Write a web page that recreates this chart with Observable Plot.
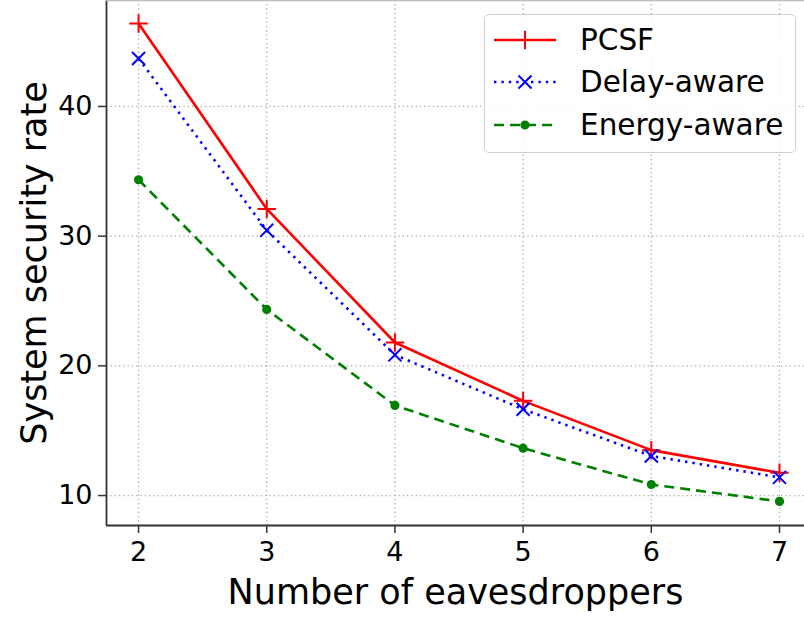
<!DOCTYPE html>
<html>
<head>
<meta charset="utf-8">
<script src="https://cdn.jsdelivr.net/npm/d3@7"></script>
<script src="https://cdn.jsdelivr.net/npm/@observablehq/plot@0.6"></script>
<style>
  html, body { margin: 0; padding: 0; background: #fff; overflow: hidden; }
  #chart { position: relative; width: 804px; height: 617px; font-family: "DejaVu Sans", sans-serif; }
  #legend {
    position: absolute; left: 484px; top: 14px; width: 312px; height: 139px;
    border: 1.5px solid #cfcfcf; border-radius: 5px; background: rgba(255,255,255,0.85);
    box-sizing: border-box;
  }
  #legend .row { position: absolute; left: 0; height: 40px; display: flex; align-items: center; }
  #legend .row span { font-size: 29.5px; color: #000; margin-left: 10px; }
</style>
</head>
<body>
<div id="chart"></div>
<script>
// Number of eavesdroppers
const eavesdroppers = [2, 3, 4, 5, 6, 7];
// System security rate per scheme
const pcsf = [46.4, 32.1, 21.8, 17.3, 13.5, 11.75];
const delayAware = [43.7, 30.45, 20.85, 16.65, 13.05, 11.4];
const energyAware = [34.35, 24.35, 16.95, 13.65, 10.85, 9.55];
const yTicks = [10, 20, 30, 40];

const series = [
  {name: "PCSF", values: pcsf, color: "#ff0000", dash: null, symbol: "plus", r: 6, fill: "none"},
  {name: "Delay-aware", values: delayAware, color: "#0000ff", dash: "2.4,5", symbol: "times", r: 6, fill: "none"},
  {name: "Energy-aware", values: energyAware, color: "#008000", dash: "10,6", symbol: "circle", r: 3.6, fill: "#008000"}
];

const rows = series.flatMap(s => eavesdroppers.map((x, i) => ({x, y: s.values[i], name: s.name})));

const gridStyle = {stroke: "#aaaaaa", strokeOpacity: 1, strokeWidth: 1.3, strokeDasharray: "1.3,3"};
const marks = [
  Plot.gridX(eavesdroppers, gridStyle),
  Plot.gridY(yTicks, gridStyle),
  Plot.axisX(eavesdroppers, {tickSize: 8, tickPadding: 8, fontSize: 27, stroke: "#333", strokeWidth: 1.5, label: null, tickFormat: d => String(d)}),
  Plot.axisY(yTicks, {tickSize: 8, tickPadding: 6, fontSize: 27, stroke: "#333", strokeWidth: 1.5, label: null}),
  Plot.ruleY([7.69], {stroke: "#333", strokeWidth: 1.8}),
  Plot.ruleX([1.75], {stroke: "#333", strokeWidth: 1.8}),
  Plot.ruleY([48.17], {stroke: "#bbb", strokeWidth: 1.5})
];

for (const s of series) {
  const data = rows.filter(d => d.name === s.name);
  marks.push(Plot.line(data, {x: "x", y: "y", stroke: s.color, strokeWidth: 2.6, strokeDasharray: s.dash, strokeLinecap: "butt"}));
  marks.push(Plot.dot(data, {x: "x", y: "y", symbol: () => s.symbol, stroke: s.color, fill: s.fill, r: s.r, strokeWidth: 2}));
}

marks.push(Plot.text(["Number of eavesdroppers"], {frameAnchor: "bottom", dy: 78, fontSize: 35, fill: "#000"}));
marks.push(Plot.text(["System security rate"], {frameAnchor: "left", textAnchor: "middle", dx: -72, rotate: -90, fontSize: 35, fill: "#000"}));

const chart = Plot.plot({
  width: 804,
  height: 617,
  marginLeft: 106,
  marginRight: 0,
  marginTop: 0,
  marginBottom: 92,
  style: {fontFamily: "DejaVu Sans, sans-serif", background: "#fff", overflow: "visible"},
  x: {domain: [1.75, 7.195], axis: null},
  y: {domain: [7.69, 48.17], axis: null},
  symbol: {type: "identity"},
  marks
});
document.getElementById("chart").appendChild(chart);

// Legend entries built from the same series definitions
const legend = document.createElement("div");
legend.id = "legend";
series.forEach((s, i) => {
  const row = document.createElement("div");
  row.className = "row";
  row.style.top = (4.5 + i * 42.5) + "px";
  const svg = d3.create("svg").attr("width", 76).attr("height", 40).style("margin-left", "9px");
  svg.append("line").attr("x1", 0).attr("x2", 62).attr("y1", 20).attr("y2", 20)
    .attr("stroke", s.color).attr("stroke-width", 2.6).attr("stroke-dasharray", s.dash);
  const sym = d3.symbol().type(s.symbol === "plus" ? d3.symbolPlus : s.symbol === "times" ? d3.symbolTimes : d3.symbolCircle)
    .size(Math.PI * s.r * s.r);
  svg.append("path").attr("d", sym()).attr("transform", "translate(31,20)")
    .attr("stroke", s.color).attr("stroke-width", 2).attr("fill", s.fill);
  row.appendChild(svg.node());
  const label = document.createElement("span");
  label.textContent = s.name;
  row.appendChild(label);
  legend.appendChild(row);
});
document.getElementById("chart").appendChild(legend);
</script>
</body>
</html>
